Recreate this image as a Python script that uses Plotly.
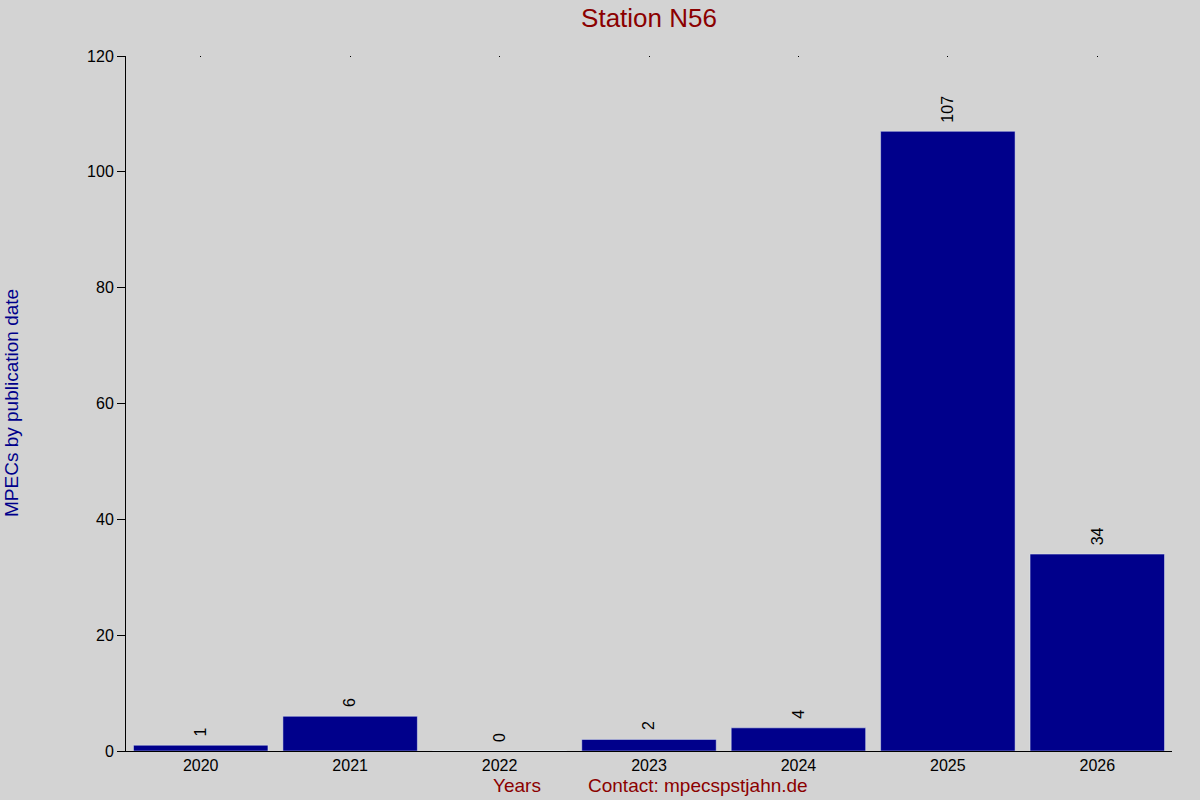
import plotly.graph_objects as go

years = ["2020", "2021", "2022", "2023", "2024", "2025", "2026"]
mpecs = [1, 6, 0, 2, 4, 107, 34]
y_ticks = [0, 20, 40, 60, 80, 100, 120]

dark_red = "#8B0000"
dark_blue = "#00008B"
grey = "#D3D3D3"
font = "Liberation Sans, Arial, sans-serif"

fig = go.Figure()
fig.add_trace(go.Bar(
    x=years, y=mpecs,
    marker=dict(color=dark_blue, line=dict(width=0)),
    hoverinfo="x+y",
))
# invisible copy so the top axis (little dot ticks) gets drawn
fig.add_trace(go.Bar(
    x=years, y=mpecs, xaxis="x2",
    marker=dict(color="rgba(0,0,0,0)"),
    hoverinfo="skip", showlegend=False,
))

# value labels, rotated, sitting a bit above each bar
# (category axis: annotation x is the category index)
labels = [
    dict(text=str(v), x=i, y=v, xref="x", yref="y", showarrow=False,
         textangle=-90, xanchor="center", yanchor="bottom", yshift=7,
         font=dict(family=font, size=16, color="black"))
    for i, v in enumerate(mpecs)
]

fig.update_layout(
    width=1200, height=800,
    paper_bgcolor=grey, plot_bgcolor=grey,
    margin=dict(l=126, r=28, t=56, b=49),
    bargap=0.1,
    showlegend=False,
    font=dict(family=font, size=16, color="black"),
    title=dict(text="Station N56", x=649 / 1200, xanchor="center", y=1 - 18 / 800, yanchor="middle",
               font=dict(family=font, size=26, color=dark_red)),
    xaxis=dict(
        type="category", showgrid=False, zeroline=False,
        showline=True, linecolor="black", linewidth=1,
        ticks="", tickfont=dict(size=16, color="black"),
    ),
    xaxis2=dict(
        type="category", overlaying="x", side="top", matches="x",
        showgrid=False, zeroline=False, showline=False,
        ticks="inside", ticklen=1, tickwidth=1, tickcolor="black",
        showticklabels=False,
    ),
    yaxis=dict(
        range=[0, 120], tickvals=y_ticks, showgrid=False, zeroline=False,
        showline=True, linecolor="black", linewidth=1,
        ticks="outside", ticklen=8, tickcolor="black",
        tickfont=dict(size=16, color="black"),
    ),
    annotations=labels + [
        dict(text="MPECs by publication date", xref="paper", yref="paper",
             x=(11 - 126) / 1046, y=(751 - 403) / 695, textangle=-90, showarrow=False,
             xanchor="center", yanchor="middle",
             font=dict(family=font, size=19, color=dark_blue)),
        dict(text="Years", xref="paper", yref="paper",
             x=(517 - 126) / 1046, y=-(786 - 751) / 695, showarrow=False,
             xanchor="center", yanchor="middle",
             font=dict(family=font, size=19, color=dark_red)),
        dict(text="Contact: mpecspstjahn.de", xref="paper", yref="paper",
             x=(698 - 126) / 1046, y=-(786 - 751) / 695, showarrow=False,
             xanchor="center", yanchor="middle",
             font=dict(family=font, size=19, color=dark_red)),
    ],
)

fig.write_html("out.html", config={"displayModeBar": False},
               post_script="document.body.style.margin='0';")
